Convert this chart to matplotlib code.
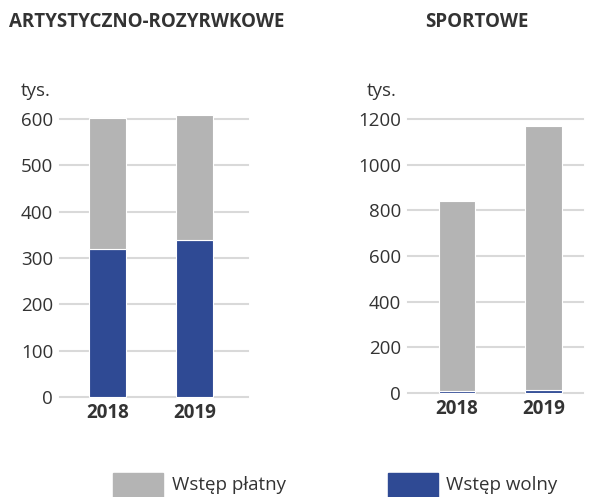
import matplotlib
matplotlib.use("Agg")
import matplotlib.pyplot as plt
import matplotlib.patches as mpatches

plt.rcParams['font.family'] = ['Open Sans', 'DejaVu Sans']

years = ['2018', '2019']
# tys. osób
art_free = [319, 339]
art_paid = [283, 270]
sport_free = [10, 14]
sport_paid = [831, 1155]

art_ticks = [0, 100, 200, 300, 400, 500, 600]
sport_ticks = [0, 200, 400, 600, 800, 1000, 1200]

legend_labels = ['Wstęp płatny', 'Wstęp wolny']

GRAY = '#b4b4b4'
BLUE = '#2f4a94'
TXT = '#333333'
GRID = '#d9d9d9'
FS = 13.5

fig = plt.figure(figsize=(5.97, 4.97), dpi=100)
fig.patch.set_facecolor('white')

ax1 = fig.add_axes([60/597, 1-397/497, 188/597, 278/497])
ax2 = fig.add_axes([408/597, 1-393/497, 175/597, 274/497])


def draw(ax, free, paid, ticks, xlim, width):
    x = range(len(years))
    ax.bar(x, free, width=width, color=BLUE, edgecolor='white', linewidth=0.8,
           zorder=3, clip_on=False)
    ax.bar(x, paid, bottom=free, width=width, color=GRAY, edgecolor='white',
           linewidth=0.8, zorder=3, clip_on=False)
    ax.set_ylim(ticks[0], ticks[-1])
    ax.set_xlim(*xlim)
    ax.set_yticks(ticks)
    ax.set_xticks(list(x))
    ax.set_xticklabels(years, fontweight='bold')
    for t in ticks:
        ax.axhline(t, color=GRID, linewidth=1.5, zorder=1, clip_on=False)
    for s in ax.spines.values():
        s.set_visible(False)
    ax.tick_params(axis='both', length=0, labelsize=FS, colors=TXT)
    ax.tick_params(axis='y', pad=5)
    ax.tick_params(axis='x', pad=4)


draw(ax1, art_free, art_paid, art_ticks, (-0.546, 1.615), 0.425)
draw(ax2, sport_free, sport_paid, sport_ticks, (-0.566, 1.457), 0.42)

fig.text(9/597, 1-22/497, 'ARTYSTYCZNO-ROZYRWKOWE', fontsize=13.5,
         fontweight='bold', color=TXT, va='center', ha='left')
fig.text(425/597, 1-22/497, 'SPORTOWE', fontsize=13.5,
         fontweight='bold', color=TXT, va='center', ha='left')
fig.text(21/597, 1-91/497, 'tys.', fontsize=FS, color=TXT, va='center', ha='left')
fig.text(367/597, 1-91/497, 'tys.', fontsize=FS, color=TXT, va='center', ha='left')

# legenda na dole, kwadraty ucięte krawędzią
for (x0, tx), col, lab in zip([(113, 172), (388, 446)], [GRAY, BLUE], legend_labels):
    fig.add_artist(mpatches.Rectangle((x0/597, -4/497), 50/597, 28/497,
                                      transform=fig.transFigure, color=col))
    fig.text(tx/597, 1-485/497, lab, fontsize=FS, color=TXT, va='center', ha='left')

fig.savefig('out.png', dpi=100, facecolor='white')
